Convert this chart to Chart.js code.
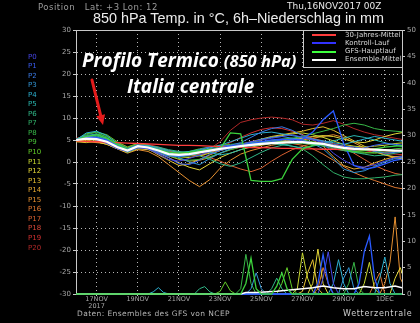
<!DOCTYPE html>
<html><head><meta charset="utf-8">
<script src="https://cdn.jsdelivr.net/npm/chart.js@4/dist/chart.umd.min.js"></script>
<style>
html,body{margin:0;padding:0;background:#000;}
#wrap{position:relative;width:420px;height:323px;background:#000;overflow:hidden;font-family:"DejaVu Sans",sans-serif;}
#c{position:absolute;left:0;top:0;}
.t{position:absolute;white-space:pre;line-height:1;}
.ov{position:absolute;white-space:nowrap;line-height:1;color:#fff;font-family:"Open Sans",Lato,sans-serif;font-weight:bold;font-style:italic;text-shadow:0 0 2px #000,1px 1px 1px #000;}
#legend{position:absolute;left:303px;top:30px;width:100px;height:38px;box-sizing:border-box;border:1px solid #c8c8c8;background:#000;}
.ls{position:absolute;height:2px;width:24px;}
</style></head><body>
<div id="wrap">
<canvas id="c" width="420" height="323"></canvas>
</div>
<script>
// ---- data ----
const hoursT = [0,12,24,36,48,60,72,84,96,108,120,132,144,156,168,180,192,204,216,228,240,252,264,276,288,300,312,324,336,348,360,372,384];
const tickHours = [24,72,120,168,216,264,312,360];
const tickLabels = [["17NOV","2017"],"19NOV","21NOV","23NOV","25NOV","27NOV","29NOV","1DEC"];
const memberNames = ["P0","P1","P2","P3","P4","P5","P6","P7","P8","P9","P10","P11","P12","P13","P14","P15","P16","P17","P18","P19","P20"];
const memberColors = ["#4646e6","#3a5cf0","#3a7ae6","#3296d6","#2cb0d0","#2ab8b0","#30b888","#30b068","#38b848","#48c038","#62ca28","#c8d830","#e6d838","#e6c030","#e6a830","#e69030","#e07830","#d86030","#d84838","#d03030","#b02828"];
const tempMean = [5.0,5.3,5.2,4.6,3.4,2.6,3.6,3.3,2.6,1.8,1.6,1.8,2.2,2.6,3.0,3.3,3.6,3.9,4.1,4.3,4.4,4.5,4.5,4.3,4.1,3.6,3.2,3.0,2.9,2.8,2.7,2.6,2.6];
const tempClim = [4.8,4.7,4.6,4.5,4.4,4.3,4.2,4.1,4.0,3.9,3.8,3.8,3.7,3.6,3.5,3.5,3.4,3.3,3.3,3.2,3.1,3.1,3.0,3.0,2.9,2.9,2.8,2.8,2.7,2.7,2.6,2.6,2.5];
const tempCtrl = [5.0,5.4,5.6,5.0,3.8,2.8,3.8,3.4,2.6,1.8,1.4,1.6,2.2,2.8,3.2,3.6,3.8,4.2,4.6,5.0,5.2,5.0,5.2,6.8,9.6,11.6,4.2,-0.8,-1.6,-1.2,-0.4,0.4,0.8];
const tempMain = [5.0,5.8,6.2,5.4,4.0,2.8,3.6,3.4,2.8,2.2,2.0,2.2,2.6,2.8,3.0,6.6,6.4,-4.2,-4.4,-4.4,-3.8,0.6,3.0,3.8,4.2,3.6,2.8,2.4,2.6,3.0,3.4,3.6,3.8];
const tempMembers = [
 [5.1,5.6,5.0,4.2,3.0,2.4,3.2,3.0,1.8,0.6,0.2,0.8,1.6,2.4,3.0,3.6,4.0,4.6,5.0,5.4,5.8,6.2,5.6,5.0,4.4,2.0,0.4,-0.8,-1.2,-0.6,0.2,1.0,1.4],
 [4.9,5.4,5.4,4.8,3.6,2.8,3.8,3.4,2.2,1.0,-0.4,-0.6,0.4,1.8,2.6,3.2,3.4,3.8,4.2,4.6,5.0,5.2,4.8,4.4,4.0,3.4,2.8,2.6,3.2,3.8,4.2,4.0,3.8],
 [5.0,5.8,5.6,4.8,3.8,3.0,3.6,3.0,2.0,1.4,1.2,1.6,2.8,3.4,3.6,3.8,4.4,5.6,6.8,7.6,8.0,7.2,6.0,5.2,4.6,4.0,3.6,3.4,3.0,2.4,2.0,2.2,2.6],
 [5.2,6.0,6.4,5.2,3.8,2.6,3.4,3.6,3.0,2.4,1.0,0.0,-0.6,0.8,2.0,3.0,3.8,4.4,5.2,5.6,5.8,5.4,5.0,4.2,3.0,0.8,-1.6,-2.4,-2.0,-1.0,0.0,0.8,1.2],
 [5.0,6.6,7.0,6.0,4.2,3.0,3.8,3.6,2.8,2.0,1.4,1.8,2.6,3.2,3.8,4.6,5.4,6.2,6.6,6.8,6.4,6.0,5.6,5.2,4.8,4.4,4.0,4.6,5.2,5.8,5.4,5.0,4.6],
 [4.8,5.6,6.2,5.4,3.6,2.8,3.8,3.8,3.2,2.6,2.2,2.4,2.8,2.2,1.6,2.0,2.8,3.6,4.0,4.2,4.0,3.6,3.2,3.6,4.2,4.8,5.4,6.0,5.6,5.0,4.4,3.8,3.4],
 [5.1,5.8,6.0,5.0,3.4,2.2,3.2,3.6,3.4,2.8,2.4,2.0,1.4,0.6,-0.4,-1.0,-0.2,1.0,2.2,3.2,3.8,4.2,4.4,4.0,3.6,3.0,2.6,2.2,1.8,1.4,1.6,2.0,2.4],
 [5.0,5.4,5.8,5.2,3.8,2.6,3.4,3.2,2.4,1.6,1.2,1.4,2.0,2.6,3.2,3.6,4.0,4.2,4.4,4.2,4.0,3.6,3.0,1.4,-0.6,-2.4,-3.4,-3.8,-3.8,-3.6,-3.4,-3.0,-2.8],
 [5.2,6.2,6.8,5.6,4.0,3.2,4.0,3.6,2.4,1.4,0.8,0.4,0.6,1.2,2.0,2.8,3.4,3.8,4.2,4.6,5.0,5.4,5.8,6.4,7.0,7.6,8.4,8.8,8.4,7.6,7.2,7.0,6.8],
 [4.9,5.6,6.4,5.8,4.4,3.0,3.6,3.4,2.8,2.2,2.0,2.4,3.0,3.4,3.8,4.0,4.2,4.4,4.6,4.8,4.6,4.4,4.2,4.0,3.8,3.2,2.6,2.2,2.0,2.2,2.6,3.0,3.2],
 [5.0,6.4,6.8,6.2,4.6,3.4,4.2,3.8,2.6,1.8,1.6,2.0,2.6,3.0,3.4,3.6,3.8,4.0,4.4,4.8,5.2,5.4,5.0,4.6,4.2,3.4,2.8,2.4,2.2,2.0,2.2,2.4,2.6],
 [5.0,5.2,5.0,4.4,3.2,2.4,3.4,3.2,2.6,1.8,1.2,1.0,1.4,2.0,2.6,3.2,3.8,4.4,5.0,5.6,6.0,6.4,6.6,6.2,5.6,4.8,4.0,3.6,3.4,3.6,3.8,4.2,4.4],
 [4.8,4.8,4.6,4.0,3.0,2.2,3.0,2.8,2.0,1.0,-0.2,-1.2,-1.8,-0.4,1.0,2.0,2.8,3.4,3.8,4.2,4.6,5.0,5.4,5.8,6.0,5.8,5.2,4.6,4.4,5.0,5.8,6.4,6.8],
 [4.6,4.4,4.8,4.4,3.4,2.6,3.4,3.0,1.6,0.4,-0.8,-0.4,0.6,1.6,2.6,3.4,4.0,4.6,5.2,5.8,6.2,6.6,7.0,7.6,8.0,7.2,6.0,4.8,3.6,2.4,1.6,1.0,0.6],
 [4.7,4.6,4.4,4.2,3.4,2.4,3.2,3.0,2.2,1.4,0.6,0.2,0.4,1.0,2.0,2.8,3.4,3.8,4.0,4.4,4.8,5.2,5.6,5.0,3.6,1.2,-0.8,-1.6,-1.2,-0.2,0.6,1.2,1.4],
 [4.8,5.0,4.6,4.0,3.0,2.0,2.8,2.4,1.2,-0.6,-2.4,-4.2,-5.6,-4.0,-1.4,0.4,1.8,2.6,3.2,3.8,4.2,4.6,5.0,5.4,5.8,6.2,5.6,4.4,3.2,2.4,1.6,1.2,1.0],
 [4.9,5.2,5.0,4.6,3.6,2.8,3.6,3.2,2.6,2.0,1.6,1.4,1.6,2.2,2.8,3.4,4.0,4.4,4.6,4.8,4.6,4.2,3.8,3.0,1.8,0.4,-1.0,-2.4,-3.4,-4.2,-5.0,-5.8,-6.2],
 [5.0,5.4,5.2,4.8,3.8,3.0,3.8,3.6,3.0,2.4,2.0,1.8,1.6,1.0,0.2,-0.8,-1.6,-2.2,-1.4,0.2,1.6,2.8,3.6,4.2,4.6,4.0,3.2,2.0,0.6,-0.8,-1.8,-2.6,-3.0],
 [5.3,5.6,5.4,5.0,4.0,3.2,4.0,3.8,3.2,2.6,2.2,2.2,2.4,2.8,3.2,3.6,3.8,4.0,4.2,4.4,4.6,4.8,4.6,4.4,4.2,3.8,3.6,3.4,3.2,3.0,2.8,2.6,2.4],
 [5.4,5.8,5.6,5.2,4.4,3.4,4.2,4.0,3.4,2.6,1.8,1.4,1.6,2.4,3.4,4.4,5.6,6.6,7.4,7.8,7.6,7.0,6.2,5.4,4.8,4.2,3.6,3.0,2.6,2.2,2.0,1.8,1.6],
 [5.2,5.4,5.0,4.6,3.6,2.8,3.6,3.4,2.8,2.2,1.8,2.0,2.4,3.0,4.6,7.2,9.0,9.6,10.0,10.2,10.0,9.6,8.6,8.4,8.8,9.4,8.6,7.6,6.8,6.2,5.8,5.4,5.0]
];
const precipMean = [[0,0],[192,0],[198,0.3],[210,0.3],[234,0.5],[246,0.7],[264,1.0],[276,1.2],[288,1.5],[300,1.2],[312,1.0],[324,1.0],[336,1.4],[348,1.2],[360,1.2],[372,1.5],[384,1.0]];
const precipCtrl = [[0,0],[276,0],[282,2],[288,7.5],[294,2],[300,0],[324,0],[330,2],[336,8],[342,11],[348,3],[354,0],[384,0]];
const precipMain = [[0,0],[192,0],[198,2],[204,6.8],[210,1],[216,0],[228,0],[234,1.5],[240,4],[246,1],[252,0],[384,0]];
const precipMemberIdx = [0,3,4,6,8,10,11,12,13,15,16];
const precipMembers = [
 [[0,0],[282,0],[288,3],[294,8],[300,2],[306,0],[384,0]],
 [[0,0],[198,0],[204,1],[210,4],[216,1],[222,0],[306,0],[312,3],[318,5],[324,1],[330,0],[384,0]],
 [[0,0],[84,0],[90,0.4],[96,1.2],[102,0.3],[108,0],[294,0],[300,2],[306,6.5],[312,2],[318,0],[348,0],[354,3],[360,7],[366,2],[372,0],[384,0]],
 [[0,0],[138,0],[144,1.0],[150,1.4],[156,0.4],[162,0],[222,0],[228,1],[234,3],[240,1],[246,0],[384,0]],
 [[0,0],[186,0],[192,1],[198,7.5],[204,2],[210,0],[312,0],[318,2],[324,6],[330,1],[336,0],[384,0]],
 [[0,0],[162,0],[168,0.5],[174,2.3],[180,0.6],[186,0],[234,0],[240,2],[246,5],[252,1],[258,0],[384,0]],
 [[0,0],[252,0],[258,1],[264,7.8],[270,3],[276,0.5],[282,0],[330,0],[336,2],[342,6],[348,1],[354,0],[384,0]],
 [[0,0],[270,0],[276,2],[282,8.5],[288,2],[294,0],[366,0],[372,3],[378,5],[384,2]],
 [[0,0],[258,0],[264,0.5],[270,4],[276,6.5],[282,1],[288,0],[384,0]],
 [[0,0],[354,0],[360,2],[366,6],[372,14.6],[378,3],[384,1]],
 [[0,0],[276,0],[282,1],[288,5],[294,2],[300,0],[342,0],[348,2],[354,4],[360,0],[384,0]]
];
const legendNames = ["30-Jahres-Mittel","Kontroll-Lauf","GFS-Hauptlauf","Ensemble-Mittel"];
const legendColors = ["#ff3c3c","#3232ff","#3cff3c","#ffffff"];

// ---- build ----
const toXY = arr => arr.map((v,i)=>({x:hoursT[i],y:v}));
const toPairs = arr => arr.map(p=>({x:p[0],y:p[1]}));
const clip = {left:0,top:0,right:0,bottom:2};
const ds = [];
ds.push({data:toXY(tempMean),borderColor:"#ffffff",borderWidth:2.2,yAxisID:"y"});
ds.push({data:toPairs(precipMain),borderColor:"#3cd23c",borderWidth:1.3,yAxisID:"y2"});
ds.push({data:toPairs(precipMean),borderColor:"#ffffff",borderWidth:1.5,yAxisID:"y2"});
ds.push({data:toXY(tempMain),borderColor:"#3cd23c",borderWidth:1.3,yAxisID:"y"});
ds.push({data:toXY(tempCtrl),borderColor:"#2a5aff",borderWidth:1.3,yAxisID:"y"});
ds.push({data:toPairs(precipCtrl),borderColor:"#2a5aff",borderWidth:1.3,yAxisID:"y2"});
ds.push({data:toXY(tempClim),borderColor:"#ff3c3c",borderWidth:1.3,yAxisID:"y"});
precipMembers.forEach((p,k)=>ds.push({data:toPairs(p),borderColor:memberColors[precipMemberIdx[k]],borderWidth:1,yAxisID:"y2"}));
tempMembers.forEach((t,k)=>ds.push({data:toXY(t),borderColor:memberColors[k],borderWidth:1,yAxisID:"y"}));
ds.forEach(d=>{d.pointRadius=0;d.tension=0;d.fill=false;d.clip=clip;});

const gridCol = "rgba(215,215,215,0.85)";
const tickFont = {family:"DejaVu Sans",size:7};

const deco = {
  id:"deco",
  afterDraw(chart){
    const {ctx,chartArea:a} = chart;
    ctx.save();
    ctx.strokeStyle="#c8c8c8"; ctx.lineWidth=1;
    ctx.beginPath(); ctx.moveTo(a.left,a.top+0.5); ctx.lineTo(a.right,a.top+0.5); ctx.stroke();
    // red arrow annotation
    const x1=92,y1=80,x2=103,y2=125;
    const ang=Math.atan2(y2-y1,x2-x1), hl=10, hw=4.5;
    const bx=x2-hl*Math.cos(ang), by=y2-hl*Math.sin(ang);
    ctx.strokeStyle="#e41c1c"; ctx.fillStyle="#e41c1c"; ctx.lineWidth=3; ctx.lineCap="round";
    ctx.beginPath(); ctx.moveTo(x1,y1); ctx.lineTo(bx,by); ctx.stroke();
    ctx.beginPath(); ctx.moveTo(x2,y2);
    ctx.lineTo(bx+hw*Math.sin(ang),by-hw*Math.cos(ang));
    ctx.lineTo(bx-hw*Math.sin(ang),by+hw*Math.cos(ang));
    ctx.closePath(); ctx.fill();
    ctx.restore();
  }
};

new Chart(document.getElementById("c"),{
  type:"line",
  data:{datasets:ds},
  plugins:[deco],
  options:{
    responsive:false,animation:false,devicePixelRatio:1,
    layout:{padding:{top:30,left:0,right:0,bottom:0}},
    plugins:{legend:{display:false},tooltip:{enabled:false}},
    scales:{
      x:{type:"linear",min:0,max:380,position:"bottom",
        afterBuildTicks:s=>{s.ticks=tickHours.map(v=>({value:v}));},
        afterFit:s=>{s.height=29;},
        ticks:{autoSkip:false,maxRotation:0,color:"#a8a8a8",font:{family:"DejaVu Sans",size:6.5,lineHeight:1.05},padding:0,
          callback:(v)=>{const i=tickHours.indexOf(v);return i>=0?tickLabels[i]:"";}},
        grid:{color:gridCol,lineWidth:1,drawTicks:true,tickLength:2,tickColor:"#c8c8c8"},
        border:{display:true,color:"#c8c8c8",width:1,dash:[1,3]}
      },
      y:{type:"linear",min:-30,max:30,position:"left",
        afterFit:s=>{s.width=76;},
        ticks:{stepSize:5,color:"#a8a8a8",font:tickFont,padding:2},
        grid:{color:gridCol,lineWidth:1,tickLength:3,tickColor:"#c8c8c8"},
        border:{display:true,color:"#c8c8c8",width:1,dash:[1,3]}
      },
      y2:{type:"linear",min:0,max:50,position:"right",
        afterFit:s=>{s.width=18;},
        ticks:{stepSize:5,color:"#a8a8a8",font:tickFont,padding:2},
        grid:{drawOnChartArea:false,tickLength:3,tickColor:"#c8c8c8"},
        border:{display:true,color:"#c8c8c8",width:1}
      }
    }
  }
});

// ---- texts ----
const wrap = document.getElementById("wrap");
function txt(s,x,y,size,color,extra){
  const d=document.createElement("div"); d.className="t"; d.textContent=s;
  d.style.left=x+"px"; d.style.top=(y-size/2)+"px"; d.style.fontSize=size+"px"; d.style.color=color;
  if(extra) Object.assign(d.style,extra);
  wrap.appendChild(d); return d;
}
txt("Position   Lat: +3 Lon: 12",38,7,8.5,"#9c9c9c",{letterSpacing:"0.5px"});
txt("Thu,16NOV2017 00Z",287,6,9,"#e8e8e8");
txt("850 hPa Temp. in \u00B0C, 6h\u2013Niederschlag in mm",93,18,14.4,"#ececec",{fontFamily:"Liberation Sans, sans-serif"});
memberNames.forEach((n,k)=>txt(n,28,57+k*9.55,7,memberColors[k]));
txt("Daten: Ensembles des GFS von NCEP",77,314,7.5,"#b4b4b4",{letterSpacing:"0.4px"});
txt("Wetterzentrale",343,314,8,"#d0d0d0",{letterSpacing:"0.7px"});

const lg=document.createElement("div"); lg.id="legend"; wrap.appendChild(lg);
legendNames.forEach((n,k)=>{
  const y=35+k*8.3;
  const l=document.createElement("div"); l.className="ls"; l.style.left="312px"; l.style.top=(y-1)+"px"; l.style.background=legendColors[k]; wrap.appendChild(l);
  txt(n,345,y,7,"#d8d8d8");
});

function ov(s,x,baseline,size){
  const d=document.createElement("div"); d.className="ov";
  d.style.left=x+"px"; d.style.top=(baseline-size*0.85)+"px"; d.style.fontSize=size+"px";
  d.textContent=s; wrap.appendChild(d); return d;
}
const o1 = ov("Profilo Termico ",82,67,19);
const sm=document.createElement("span"); sm.textContent="(850 hPa)"; sm.style.fontSize="16.5px"; o1.appendChild(sm);
ov("Italia centrale",127,93,19);
</script>
</body></html>
